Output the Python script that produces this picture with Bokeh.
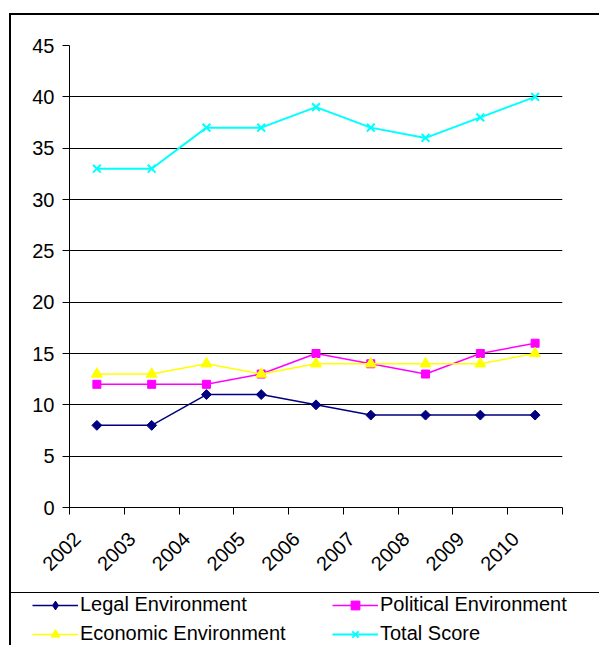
import math
import numpy as np
from bokeh.plotting import figure
from bokeh.models import Range1d, FixedTicker, Legend, LegendItem, ColumnDataSource
from bokeh.layouts import column
from bokeh.embed import file_html
from bokeh.resources import INLINE

years = ["2002", "2003", "2004", "2005", "2006", "2007", "2008", "2009", "2010"]
legal = [8, 8, 11, 11, 10, 9, 9, 9, 9]
political = [12, 12, 12, 13, 15, 14, 13, 15, 16]
economic = [13, 13, 14, 13, 14, 14, 14, 14, 15]
total = [33, 33, 37, 37, 39, 37, 36, 38, 40]
y_ticks = [0, 5, 10, 15, 20, 25, 30, 35, 40, 45]

series_names = ["Legal Environment", "Political Environment", "Economic Environment", "Total Score"]
series_keys = ["legal", "political", "economic", "total"]

FONT = "Liberation Sans"
FS = "20px"

n = len(years)
pos = np.arange(n) + 0.5
src = ColumnDataSource(dict(x=pos, legal=legal, political=political,
                            economic=economic, total=total))

styles = {
    "legal": dict(color="#000080", marker="square", size=7, angle=math.pi / 4, lw=1.5,
                  lg_marker="diamond", lg_size=12),
    "political": dict(color="#FF00FF", marker="square", size=8, angle=0, lw=1.5,
                      lg_marker="square", lg_size=8),
    "economic": dict(color="#FFFF00", marker="triangle", size=11, angle=0, lw=1.5,
                     lg_marker="triangle", lg_size=11),
    "total": dict(color="#00FFFF", marker="x", size=11, angle=0, lw=2,
                  lg_marker="x", lg_size=11),
}

p = figure(width=588, height=577, output_backend="svg", toolbar_location=None,
           x_range=Range1d(0, n), y_range=Range1d(y_ticks[0], y_ticks[-1]),
           min_border_left=58, min_border_right=37, min_border_top=30, min_border_bottom=85)
p.frame_align = False
p.outline_line_color = None
p.xgrid.grid_line_color = None
p.ygrid.grid_line_color = "black"
p.ygrid.grid_line_width = 1

p.yaxis.ticker = FixedTicker(ticks=y_ticks, minor_ticks=[])
p.yaxis.major_tick_out = 7
p.yaxis.major_tick_in = 0
p.yaxis.major_label_standoff = 8
p.yaxis.major_label_text_font = FONT
p.yaxis.major_label_text_font_size = FS
p.yaxis.major_label_text_color = "black"
p.yaxis.axis_line_color = "black"
p.yaxis.major_tick_line_color = "black"

# year labels sit just left of each category centre, boundary ticks between categories
label_pos = [float(v) - 0.36 for v in pos]
p.xaxis.ticker = FixedTicker(ticks=label_pos, minor_ticks=list(range(n + 1)))
p.xaxis.major_label_overrides = {v: y for v, y in zip(label_pos, years)}
p.xaxis.major_tick_line_color = None
p.xaxis.major_tick_out = 0
p.xaxis.minor_tick_out = 7
p.xaxis.minor_tick_in = 0
p.xaxis.minor_tick_line_color = "black"
p.xaxis.axis_line_color = "black"
p.xaxis.major_label_orientation = math.pi / 4
p.xaxis.major_label_standoff = 21
p.xaxis.major_label_text_font = FONT
p.xaxis.major_label_text_font_size = FS
p.xaxis.major_label_text_color = "black"

for key in series_keys:
    s = styles[key]
    p.line("x", key, source=src, line_color=s["color"], line_width=s["lw"])
    if s["marker"] == "x":
        p.scatter("x", key, source=src, marker="x", size=s["size"],
                  line_color=s["color"], line_width=2)
    else:
        p.scatter("x", key, source=src, marker=s["marker"], size=s["size"], angle=s["angle"],
                  fill_color=s["color"], line_color=s["color"])

# legend panel
lg = figure(width=588, height=53, output_backend="svg", toolbar_location=None,
            x_range=Range1d(-20, -19), y_range=Range1d(-20, -19),
            x_axis_type=None, y_axis_type=None, min_border=0,
            styles={"border-top": "1px solid black"})
lg.frame_align = False
lg.outline_line_color = None
lg.grid.visible = False
items = []
for name, key in zip(series_names, series_keys):
    s = styles[key]
    r1 = lg.line("x", key, source=src, line_color=s["color"], line_width=s["lw"])
    if s["lg_marker"] == "x":
        r2 = lg.scatter("x", key, source=src, marker="x", size=s["lg_size"],
                        line_color=s["color"], line_width=2)
    else:
        r2 = lg.scatter("x", key, source=src, marker=s["lg_marker"], size=s["lg_size"],
                        fill_color=s["color"], line_color=s["color"])
    items.append(LegendItem(label=name, renderers=[r1, r2]))

legend = Legend(items=items, ncols=2, orientation="horizontal", location=(21, 1),
                padding=0, margin=0, border_line_color=None, background_fill_alpha=0,
                glyph_width=46, glyph_height=22, label_height=22, label_width=246,
                label_standoff=2, spacing=6,
                label_text_font=FONT, label_text_font_size=FS, label_text_color="black")
lg.add_layout(legend)

layout = column(p, lg, margin=(13, 0, 0, 9), spacing=0,
                styles={"border-left": "2px solid black", "border-top": "2px solid black"})

open("out.html", "w").write(file_html(layout, INLINE))
